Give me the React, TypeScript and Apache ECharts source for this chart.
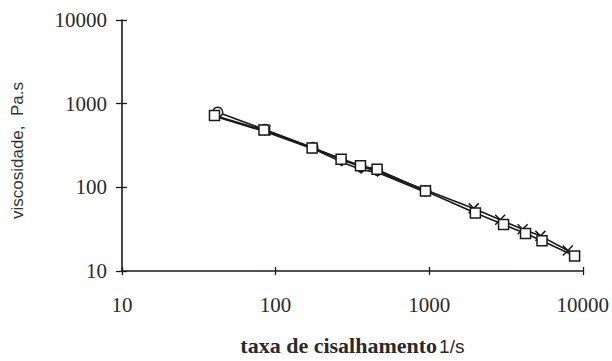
import React, { useEffect, useRef } from "react";
import * as echarts from "echarts";

// shear rate (1/s) and viscosity (Pa.s)
const squareX = [40, 84, 173, 267, 357, 458, 946, 2000, 3050, 4240, 5430, 8850];
const squareY = [720, 483, 295, 216, 181, 164, 90.6, 49.2, 36, 28, 23, 15.1];

const circleX = [42, 85, 175, 268, 358, 460, 950];
const circleY = [790, 490, 298, 214, 178, 160, 91];

const diamondX = [41, 85, 176, 270, 360, 462, 955];
const diamondY = [700, 465, 288, 200, 163, 150, 87];

const crossX = [86, 950, 1950, 2900, 4060, 5300, 8000];
const crossY = [478, 93, 56, 41, 31.5, 26.3, 17.6];

const xTicks = ["10", "100", "1000", "10000"];
const yTicks = ["10", "100", "1000", "10000"];

const zip = (xs: number[], ys: number[]) => xs.map((x, i) => [x, ys[i]]);

export default function App() {
  const ref = useRef<HTMLDivElement>(null);
  useEffect(() => {
    if (!ref.current) return;
    const chart = echarts.init(ref.current, null, { renderer: "svg" });
    const ink = "#1a1a1a";
    const serif = "'Liberation Serif', 'DejaVu Serif', serif";
    const sans = "'Liberation Sans', Arial, sans-serif";
    const baseAxis = {
      type: "log" as const,
      logBase: 10,
      min: 10,
      max: 10000,
      splitLine: { show: false },
    };
    chart.setOption({
      animation: false,
      backgroundColor: "#ffffff",
      grid: { left: 122, right: 28, top: 20, bottom: 85, containLabel: false },
      xAxis: [
        {
          ...baseAxis,
          position: "bottom",
          axisLine: { show: true, lineStyle: { color: ink, width: 1.6 } },
          axisTick: { show: true, inside: false, length: 4, lineStyle: { color: ink, width: 1.3 } },
          axisLabel: {
            show: true,
            margin: 23,
            fontFamily: serif,
            fontSize: 21,
            color: "#2a2a2a",
            formatter: (v: number) => xTicks[Math.round(Math.log10(v)) - 1] ?? "",
          },
          name: "{a|taxa de cisalhamento}{b|1/s}",
          nameLocation: "middle",
          nameGap: 63,
          nameTextStyle: {
            rich: {
              a: { fontFamily: serif, fontWeight: "bold", fontSize: 22, color: "#2a2a2a" },
              b: { fontFamily: sans, fontSize: 19, color: "#2a2a2a", padding: [2, 0, 0, 2] },
            },
          },
        },
        {
          ...baseAxis,
          position: "bottom",
          axisLine: { show: false },
          axisTick: { show: true, inside: true, length: 4, lineStyle: { color: ink, width: 1.3 } },
          axisLabel: { show: false },
        },
      ],
      yAxis: [
        {
          ...baseAxis,
          position: "left",
          axisLine: { show: true, lineStyle: { color: ink, width: 1.6 } },
          axisTick: { show: true, inside: false, length: 6, lineStyle: { color: ink, width: 1.3 } },
          axisLabel: {
            show: true,
            margin: 15,
            fontFamily: serif,
            fontSize: 21,
            color: "#2a2a2a",
            formatter: (v: number) => yTicks[Math.round(Math.log10(v)) - 1] ?? "",
          },
          name: "viscosidade,  Pa.s",
          nameLocation: "middle",
          nameRotate: 90,
          nameGap: 96,
          nameTextStyle: { fontFamily: sans, fontSize: 17, color: "#333", padding: [0, 10, 0, 0] },
        },
        {
          ...baseAxis,
          position: "left",
          offset: 0,
          axisLine: { show: false },
          axisTick: { show: true, inside: true, length: 5, lineStyle: { color: ink, width: 1.3 } },
          axisLabel: { show: false },
        },
      ],
      series: [
        {
          type: "line",
          data: zip(diamondX, diamondY),
          symbol: "diamond",
          symbolSize: 8,
          lineStyle: { color: ink, width: 1.6 },
          itemStyle: { color: ink, borderColor: ink, borderWidth: 1 },
          z: 1,
        },
        {
          type: "line",
          data: zip(circleX, circleY),
          symbol: "circle",
          symbolSize: 10,
          lineStyle: { color: ink, width: 1.6 },
          itemStyle: { color: "#fff", borderColor: ink, borderWidth: 1.5 },
          z: 2,
        },
        {
          type: "line",
          data: zip(crossX, crossY),
          symbol: "path://M0,0L10,10M10,0L0,10",
          symbolSize: 10,
          lineStyle: { color: ink, width: 1.6 },
          itemStyle: { color: "none", borderColor: ink, borderWidth: 1.5 },
          z: 3,
        },
        {
          type: "line",
          data: zip(squareX, squareY),
          symbol: "rect",
          symbolSize: 10,
          lineStyle: { color: ink, width: 1.6 },
          itemStyle: { color: "#fff", borderColor: ink, borderWidth: 1.5 },
          z: 4,
        },
      ],
    });
    return () => chart.dispose();
  }, []);
  return (
    <div
      ref={ref}
      style={{ position: "absolute", left: 0, top: 0, width: 612, height: 361, background: "#fff" }}
    />
  );
}
